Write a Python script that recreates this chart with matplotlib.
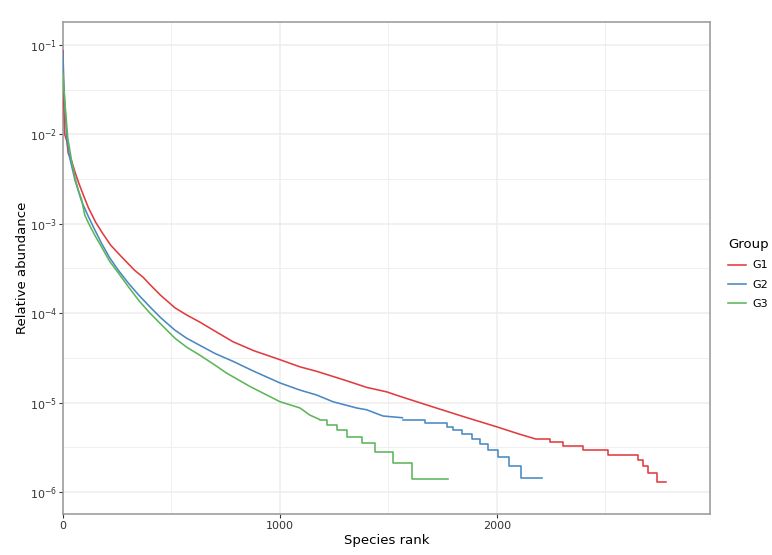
import numpy as np
import matplotlib
matplotlib.use("Agg")
import matplotlib.pyplot as plt
from matplotlib.lines import Line2D

plt.rcParams['font.family'] = ['DejaVu Sans']

groups = ["G1", "G2", "G3"]
colors = ["#E23B3E", "#4A88C2", "#5DB55A"]

# Smooth (head) part: rank and log10(relative abundance)
g1_rank = [0, 3, 8, 18, 24, 40, 55, 75, 94, 117, 150, 178, 220, 270, 330, 370, 401, 450, 516, 570,
           631, 700, 784, 880, 1000, 1092, 1169, 1300, 1400, 1492, 1553, 1707, 1850, 1998, 2100, 2183]
g1_log = [-1.056, -1.6, -2.0, -2.08, -2.21, -2.3, -2.42, -2.56, -2.68, -2.82, -2.98, -3.09, -3.24, -3.37,
          -3.52, -3.6, -3.68, -3.8, -3.94, -4.02, -4.10, -4.2, -4.32, -4.42, -4.52, -4.6, -4.65, -4.75,
          -4.83, -4.88, -4.93, -5.05, -5.16, -5.27, -5.35, -5.41]
g2_rank = [0, 3, 9, 17, 30, 55, 86, 117, 147, 178, 215, 255, 300, 350, 401, 450, 516, 570, 631, 700,
           785, 880, 1000, 1092, 1169, 1244, 1353, 1399, 1475, 1568]
g2_log = [-1.08, -1.4, -1.68, -2.03, -2.25, -2.51, -2.75, -2.92, -3.07, -3.22, -3.38, -3.52, -3.66,
          -3.8, -3.93, -4.05, -4.19, -4.28, -4.36, -4.45, -4.54, -4.65, -4.78, -4.86, -4.915, -4.99,
          -5.06, -5.08, -5.15, -5.17]
g3_rank = [0, 4, 9, 22, 40, 55, 70, 86, 100, 117, 147, 178, 215, 255, 300, 350, 401, 450, 516, 570,
           631, 700, 754, 862, 1000, 1092, 1138, 1184]
g3_log = [-1.31, -1.5, -1.65, -2.04, -2.3, -2.48, -2.62, -2.73, -2.9, -2.99, -3.13, -3.26, -3.42,
          -3.55, -3.7, -3.86, -4.00, -4.12, -4.28, -4.38, -4.47, -4.58, -4.67, -4.82, -4.99, -5.06,
          -5.14, -5.19]

# Stepped tail: rank where each level starts, log10 level, last rank
g1_step_rank = [2183, 2244, 2306, 2398, 2513, 2650, 2673, 2696, 2736, 2777]
g1_step_log = [-5.41, -5.436, -5.486, -5.53, -5.586, -5.64, -5.71, -5.79, -5.885, -5.885]
g2_step_rank = [1568, 1668, 1768, 1797, 1837, 1883, 1922, 1960, 2006, 2057, 2113, 2209]
g2_step_log = [-5.195, -5.23, -5.27, -5.31, -5.35, -5.41, -5.46, -5.53, -5.61, -5.71, -5.84, -5.84]
g3_step_rank = [1184, 1215, 1261, 1307, 1376, 1438, 1522, 1607, 1776]
g3_step_log = [-5.19, -5.25, -5.31, -5.38, -5.455, -5.55, -5.68, -5.855, -5.855]

heads = [(g1_rank, g1_log), (g2_rank, g2_log), (g3_rank, g3_log)]
tails = [(g1_step_rank, g1_step_log), (g2_step_rank, g2_step_log), (g3_step_rank, g3_step_log)]

fig = plt.figure(figsize=(7.72, 5.55), dpi=100)
ax = fig.add_axes([63/772, 1-514/555, (710-63)/772, (514-22)/555])

grid_c = "#EDEDED"
for x in [500, 1500, 2500]:
    ax.axvline(x, color=grid_c, lw=0.6, zorder=0)
for x in [0, 1000, 2000]:
    ax.axvline(x, color=grid_c, lw=1.1, zorder=0)
for k in range(-7, 0):
    ax.axhline(10.0**k, color=grid_c, lw=1.1, zorder=0)
    ax.axhline(10.0**(k + 0.5), color=grid_c, lw=0.6, zorder=0)

handles = []
for (hr, hl), (tr, tl), c, g in zip(heads, tails, colors, groups):
    ax.plot(hr, np.power(10.0, hl), color=c, lw=1.15, solid_capstyle='butt', zorder=3)
    ax.plot(tr, np.power(10.0, tl), color=c, lw=1.15, drawstyle='steps-post', zorder=3)
    handles.append(Line2D([0], [0], color=c, lw=1.15))

ax.set_yscale('log')
ax.set_xlim(0, 2982)
ax.set_ylim(10**-6.246, 10**-0.743)
ax.set_xticks([0, 1000, 2000])
ax.set_xticklabels(["0", "1000", "2000"])
ax.set_yticks([10.0**k for k in range(-6, 0)])
ax.set_yticklabels([r"$10^{%d}$" % k for k in range(-6, 0)])
ax.yaxis.set_minor_locator(matplotlib.ticker.NullLocator())
ax.tick_params(axis='both', colors='#333333', labelsize=8, length=3, width=0.8, color='#333333')
ax.tick_params(axis='x', pad=2)
ax.tick_params(axis='y', pad=1.2)
for s in ax.spines.values():
    s.set_color('#9E9E9E')
    s.set_linewidth(1.2)

ax.set_xlabel("Species rank", fontsize=9.5, color='black', labelpad=2)
ax.set_ylabel("Relative abundance", fontsize=9.5, color='black', labelpad=0.5)

leg = fig.legend(handles, groups, title="Group", loc='upper left',
                 bbox_to_anchor=(718/772, 1-228/555), frameon=False,
                 fontsize=8, title_fontsize=9.5, handlelength=1.6, handletextpad=0.6,
                 labelspacing=0.85, alignment='left')

fig.savefig("out.png", dpi=100)
